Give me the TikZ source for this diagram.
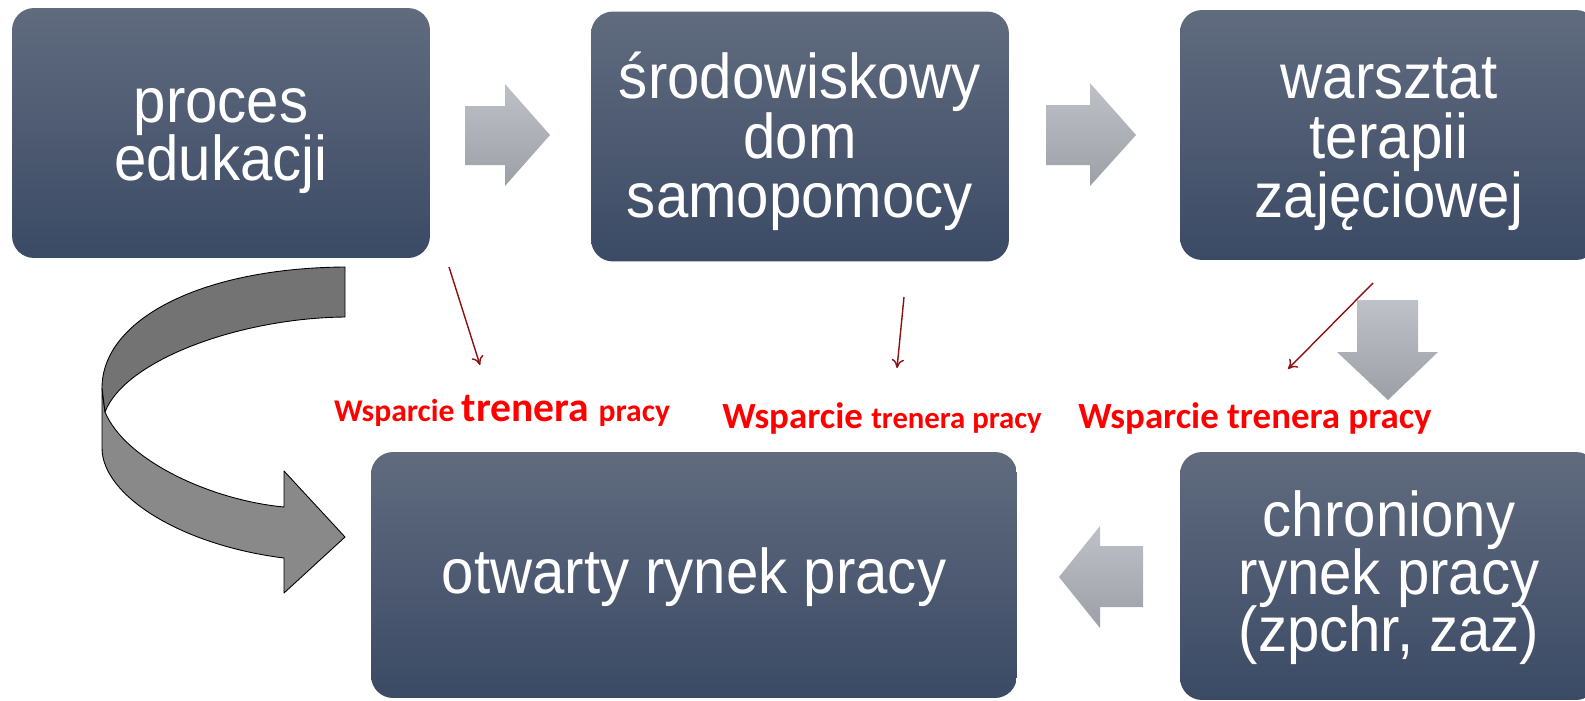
\documentclass[tikz,border=0pt]{standalone}
\usepackage{fontspec}
\setmainfont{Liberation Sans}[FakeStretch=0.92]
\newfontfamily\labelfont{Carlito}
\usepackage{tikz}
\usetikzlibrary{positioning}
\usetikzlibrary{arrows.meta}

\definecolor{boxtop}{RGB}{96,107,126}
\definecolor{boxbot}{RGB}{59,74,101}
\definecolor{arrtop}{RGB}{190,193,200}
\definecolor{arrbot}{RGB}{156,159,166}
\definecolor{tipred}{RGB}{140,16,16}
\definecolor{curveback}{RGB}{115,115,115}
\definecolor{curvefront}{RGB}{137,137,137}

\newcommand{\boxfont}[1]{\fontsize{36}{#1}\selectfont\lineskiplimit=-100pt\relax}
\newcommand{\smallred}{\fontsize{17.5}{20}\selectfont}
\newcommand{\lowred}{\fontsize{18}{20}\selectfont}
\newcommand{\bigred}{\fontsize{21}{24}\selectfont}
\newcommand{\hugered}{\fontsize{23.7}{26}\selectfont}

\begin{document}
\begin{tikzpicture}[
        x=0.02cm, y=-0.02cm,
        box/.style = {rounded corners=0.44cm, top color=boxtop, bottom color=boxbot,
            text=white, align=center, inner sep=0pt, text depth=0pt,
            minimum width=8.36cm, minimum height=5cm},
        grayarrow/.style = {top color=arrtop, bottom color=arrbot, draw=none},
        curvearrow/.style = {draw=black, line width=0.5pt, line join=round},
        redtip/.style = {draw=tipred, line width=0.8pt, -{To[length=5pt,width=7pt]}},
        lbl/.style = {text=red, font=\labelfont\bfseries, anchor=base, inner sep=0pt}
    ]

        \useasboundingbox (0,0) rectangle (1585,700);
        \clip (0,0) rectangle (1585,700);

        \node[box, font=\boxfont{33.4pt}, text height=1.92cm]
            (edu) at (221,133) {proces\\edukacji};
        \node[box, font=\boxfont{34pt}, text height=3.26cm]
            (sds) at (800,136.5) {środowiskowy\\dom\\samopomocy};
        \node[box, font=\boxfont{34pt}, text height=3.32cm]
            (wtz) at (1389,135) {warsztat\\terapii\\zajęciowej};
        \node[box, font=\boxfont{32pt}, text height=0.72cm,
            minimum width=12.92cm, minimum height=4.92cm]
            (orp) at (694,575) {otwarty rynek pracy};
        \node[box, font=\boxfont{32.9pt}, text height=3.04cm,
            minimum height=4.96cm]
            (crp) at (1389,576) {chroniony\\rynek pracy\\(zpchr, zaz)};

        % gray block arrows
        \path[grayarrow] (465,106) -- (505,106) -- (505,84) -- (550,135)
            -- (505,186) -- (505,165) -- (465,165) -- cycle;
        \path[grayarrow] (1046,105) -- (1090,105) -- (1090,83) -- (1136,135)
            -- (1090,186) -- (1090,165) -- (1046,165) -- cycle;
        \path[grayarrow] (1357,300) -- (1418,300) -- (1418,352) -- (1438,352)
            -- (1388,400) -- (1337,352) -- (1357,352) -- cycle;
        \path[grayarrow] (1143,546) -- (1100,546) -- (1100,526) -- (1059,577)
            -- (1100,628) -- (1100,607) -- (1143,607) -- cycle;

        % curved arrow
        \filldraw[curvearrow, fill=curvefront] (102,388) -- (102,448)
            .. controls (102,495) and (180,545) .. (284,558)
            -- (284,593) -- (345,537) -- (284,471) -- (284,507)
            .. controls (210,500) and (125,460) .. (105,412) -- cycle;
        \filldraw[curvearrow, fill=curveback] (345,267)
            .. controls (200,268) and (102,320) .. (102,388)
            -- (105,412) .. controls (125,360) and (240,318) .. (345,317) -- cycle;

        % red arrows
        \coordinate (r1a) at (449,267);
        \coordinate (r1b) at (480,365);
        \coordinate (r2a) at (904,297);
        \coordinate (r2b) at (897,368);
        \coordinate (r3a) at (1373,283);
        \coordinate (r3b) at (1288,369);
        \draw[redtip] (r1a) -- (r1b);
        \draw[redtip] (r2a) -- (r2b);
        \draw[redtip] (r3a) -- (r3b);

        \node[lbl] (w1) at (502,421) {\lowred Wsparcie \hugered trenera \lowred pracy};
        \node[lbl] (w2) at (882,428) {\bigred Wsparcie \smallred trenera pracy};
        \node[lbl] (w3) at (1255,428) {\bigred Wsparcie trenera pracy};

    \end{tikzpicture}
\end{document}
